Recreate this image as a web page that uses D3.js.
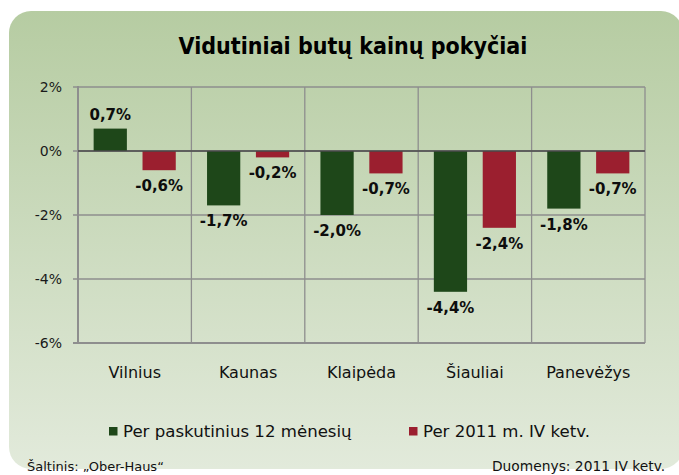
<!DOCTYPE html>
<html>
<head>
<meta charset="utf-8">
<script src="https://cdn.jsdelivr.net/npm/d3@7"></script>
<style>
    body { margin: 0; background: #ffffff; }
    svg { display: block; }
</style>
</head>
<body>
<div id="chart_div"></div>
<script>
// data
const cities = ['Vilnius', 'Kaunas', 'Klaipėda', 'Šiauliai', 'Panevėžys'];
const series_names = ['Per paskutinius 12 mėnesių', 'Per 2011 m. IV ketv.'];
const last_12_months = [0.7, -1.7, -2.0, -4.4, -1.8];
const q4_2011 = [-0.6, -0.2, -0.7, -2.4, -0.7];
const y_tick_values = [2, 0, -2, -4, -6];

const series_colors = ['#1e4719', '#9b1f2f'];
const width = 679, height = 475;
const plot = {left: 78, right: 645, top: 87, bottom: 343};

let svg = d3.select('#chart_div').append('svg')
    .attr('width', width)
    .attr('height', height);

let grad = svg.append('defs').append('linearGradient')
    .attr('id', 'bg_grad')
    .attr('x1', 0).attr('y1', 0).attr('x2', 0).attr('y2', 1);
grad.append('stop').attr('offset', '0%').attr('stop-color', '#b6cca2');
grad.append('stop').attr('offset', '100%').attr('stop-color', '#e2eadb');

svg.append('rect')
    .attr('x', 9)
    .attr('y', 11)
    .attr('width', 674)
    .attr('height', 458)
    .attr('rx', 22)
    .style('fill', 'url(#bg_grad)');

svg.append('text')
    .attr('x', 353)
    .attr('y', 54)
    .style('text-anchor', 'middle')
    .style('font-family', '"DejaVu Sans Condensed", "DejaVu Sans", sans-serif')
    .style('font-stretch', 'condensed')
    .style('font-weight', 'bold')
    .style('font-size', 23 + 'px')
    .style('fill', '#000')
    .text('Vidutiniai butų kainų pokyčiai');

let y = d3.scaleLinear().domain([-6, 2]).range([plot.bottom, plot.top]);
let x0 = d3.scaleBand().domain(cities).range([plot.left, plot.right]);
let x1 = d3.scaleBand().domain([0, 1]).range([0, x0.bandwidth()])
    .paddingInner(0.32)
    .paddingOuter(0.32);

// grid
let grid = svg.append('g');
y_tick_values.forEach(function (t) {
    grid.append('line')
        .attr('x1', plot.left - 5).attr('x2', plot.right)
        .attr('y1', y(t)).attr('y2', y(t))
        .style('stroke', '#8e8e8e')
        .style('stroke-width', t === -6 ? 2 : 1.3);
});
cities.forEach(function (c, i) {
    if (i === 0) return;
    grid.append('line')
        .attr('x1', x0(c)).attr('x2', x0(c))
        .attr('y1', plot.top).attr('y2', plot.bottom)
        .style('stroke', '#8e8e8e')
        .style('stroke-width', 1.3);
});
grid.append('line')
    .attr('x1', plot.right).attr('x2', plot.right)
    .attr('y1', plot.top).attr('y2', plot.bottom)
    .style('stroke', '#8e8e8e')
    .style('stroke-width', 1.3);
grid.append('line')
    .attr('x1', plot.left).attr('x2', plot.left)
    .attr('y1', plot.top - 1).attr('y2', plot.bottom + 1)
    .style('stroke', '#8e8e8e')
    .style('stroke-width', 2);

// y axis labels
let y_axis = svg.append('g')
    .attr('transform', 'translate(' + plot.left + ',0)')
    .call(d3.axisLeft(y).tickValues(y_tick_values).tickSize(0).tickPadding(16)
        .tickFormat(d => d + '%'));
y_axis.select('.domain').remove();
y_axis.selectAll('text')
    .style('font-family', '"DejaVu Sans", sans-serif')
    .style('font-size', 14 + 'px')
    .style('fill', '#1a1a1a');

// bars
const all_series = [last_12_months, q4_2011];
let fmt = v => v.toFixed(1).replace('.', ',') + '%';

all_series.forEach(function (values, s) {
    let g = svg.append('g');
    g.selectAll('rect')
        .data(values)
        .enter().append('rect')
        .attr('x', (d, i) => x0(cities[i]) + x1(s))
        .attr('width', x1.bandwidth())
        .attr('y', d => y(Math.max(0, d)))
        .attr('height', d => Math.abs(y(d) - y(0)))
        .style('fill', series_colors[s]);

    g.selectAll('text')
        .data(values)
        .enter().append('text')
        .attr('x', (d, i) => x0(cities[i]) + x1(s) + x1.bandwidth() / 2)
        .attr('y', d => d >= 0 ? y(d) - 9 : y(d) + 21)
        .style('text-anchor', 'middle')
        .style('font-family', '"DejaVu Sans", sans-serif')
        .style('font-weight', 'bold')
        .style('font-size', 15 + 'px')
        .style('fill', '#0d0d0d')
        .text(d => fmt(d));
});

// zero line
svg.append('line')
    .attr('x1', plot.left).attr('x2', plot.right)
    .attr('y1', y(0)).attr('y2', y(0))
    .style('stroke', '#4a4a4a')
    .style('stroke-width', 1.3);

// category labels
svg.append('g').selectAll('text')
    .data(cities)
    .enter().append('text')
    .attr('x', d => x0(d) + x0.bandwidth() / 2)
    .attr('y', 378)
    .style('text-anchor', 'middle')
    .style('font-family', '"DejaVu Sans", sans-serif')
    .style('font-size', 16 + 'px')
    .style('fill', '#111')
    .text(d => d);

// legend
const legend_items = [{left: 109, text_left: 123}, {left: 409, text_left: 423}];
legend_items.forEach(function (item, i) {
    svg.append('rect')
        .attr('x', item.left)
        .attr('y', 427)
        .attr('width', 8.5)
        .attr('height', 8.5)
        .style('fill', series_colors[i]);
    svg.append('text')
        .attr('x', item.text_left)
        .attr('y', 437)
        .style('font-family', '"DejaVu Sans", sans-serif')
        .style('font-size', 16.6 + 'px')
        .style('fill', '#111')
        .text(series_names[i]);
});

// footer
svg.append('text')
    .attr('x', 27)
    .attr('y', 471)
    .style('font-family', '"DejaVu Sans", sans-serif')
    .style('font-size', 13 + 'px')
    .style('fill', '#111')
    .text('Šaltinis: „Ober-Haus“');
svg.append('text')
    .attr('x', 492)
    .attr('y', 471)
    .style('font-family', '"DejaVu Sans", sans-serif')
    .style('font-size', 13.8 + 'px')
    .style('fill', '#111')
    .text('Duomenys: 2011 IV ketv.');
</script>
</body>
</html>
